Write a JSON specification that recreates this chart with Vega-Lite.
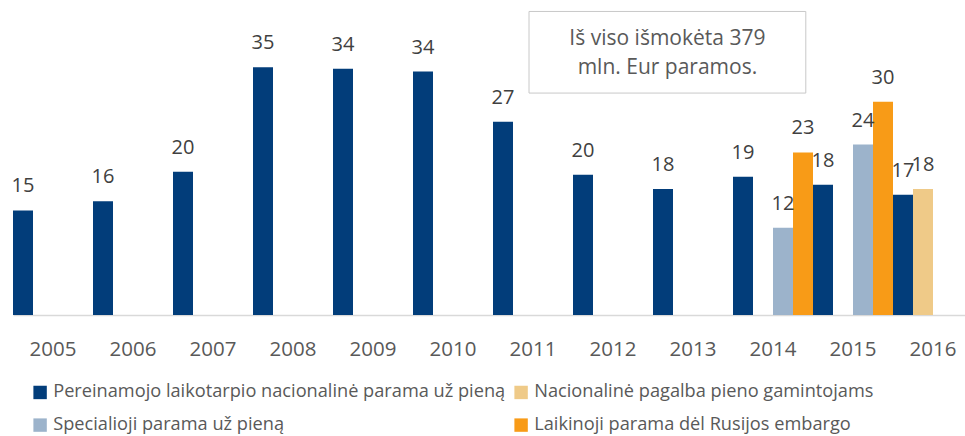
{
  "$schema": "https://vega.github.io/schema/vega-lite/v6.json",
  "width": 952,
  "height": 315,
  "autosize": {"type": "none"},
  "padding": {"left": 13, "top": 0, "right": 0, "bottom": 121},
  "background": "white",
  "config": {
    "view": {"stroke": null},
    "font": "Open Sans"
  },
  "data": {
    "values": [
      {"year": "2005", "series": "Pereinamojo laikotarpio nacionalinė parama už pieną", "value": 14.6},
      {"year": "2006", "series": "Pereinamojo laikotarpio nacionalinė parama už pieną", "value": 15.9},
      {"year": "2007", "series": "Pereinamojo laikotarpio nacionalinė parama už pieną", "value": 20.0},
      {"year": "2008", "series": "Pereinamojo laikotarpio nacionalinė parama už pieną", "value": 34.6},
      {"year": "2009", "series": "Pereinamojo laikotarpio nacionalinė parama už pieną", "value": 34.4},
      {"year": "2010", "series": "Pereinamojo laikotarpio nacionalinė parama už pieną", "value": 34.0},
      {"year": "2011", "series": "Pereinamojo laikotarpio nacionalinė parama už pieną", "value": 27.0},
      {"year": "2012", "series": "Pereinamojo laikotarpio nacionalinė parama už pieną", "value": 19.6},
      {"year": "2013", "series": "Pereinamojo laikotarpio nacionalinė parama už pieną", "value": 17.6},
      {"year": "2014", "series": "Pereinamojo laikotarpio nacionalinė parama už pieną", "value": 19.3},
      {"year": "2015", "series": "Pereinamojo laikotarpio nacionalinė parama už pieną", "value": 18.2},
      {"year": "2016", "series": "Pereinamojo laikotarpio nacionalinė parama už pieną", "value": 16.8},
      {"year": "2014", "series": "Specialioji parama už pieną", "value": 12.2},
      {"year": "2015", "series": "Specialioji parama už pieną", "value": 23.8},
      {"year": "2014", "series": "Laikinoji parama dėl Rusijos embargo", "value": 22.7},
      {"year": "2015", "series": "Laikinoji parama dėl Rusijos embargo", "value": 29.8},
      {"year": "2016", "series": "Nacionalinė pagalba pieno gamintojams", "value": 17.6}
    ]
  },
  "resolve": {"scale": {"x": "independent"}},
  "layer": [
    {
      "mark": {"type": "bar"},
      "encoding": {
        "x": {
          "field": "year", "type": "nominal",
          "scale": {"domain": ["2005","2006","2007","2008","2009","2010","2011","2012","2013","2014","2015","2016"], "range": [0, 960], "paddingInner": 0, "paddingOuter": 0},
          "axis": {"title": null, "labelAngle": 0, "ticks": false, "tickSize": 0, "labelPadding": 40, "labelBaseline": "alphabetic", "labelFontSize": 20.5, "labelColor": "#595959", "domainColor": "#d9d9d9", "domainWidth": 1.5, "labelFont": "Open Sans"}
        },
        "xOffset": {
          "field": "series", "type": "nominal",
          "scale": {"domain": ["Pereinamojo laikotarpio nacionalinė parama už pieną", "Nacionalinė pagalba pieno gamintojams", "Specialioji parama už pieną", "Laikinoji parama dėl Rusijos embargo"], "paddingInner": 0, "paddingOuter": 0}
        },
        "y": {"field": "value", "type": "quantitative", "scale": {"domain": [0, 44], "nice": false}, "axis": null},
        "color": {
          "field": "series", "type": "nominal",
          "scale": {"domain": ["Pereinamojo laikotarpio nacionalinė parama už pieną", "Nacionalinė pagalba pieno gamintojams", "Specialioji parama už pieną", "Laikinoji parama dėl Rusijos embargo"], "range": ["#023d7a", "#efca88", "#9cb3cb", "#f89b17"]},
          "legend": {
            "title": null, "orient": "none", "legendX": 18, "legendY": 383, "direction": "horizontal", "columns": 2,
            "symbolType": "square", "symbolSize": 180, "symbolStrokeWidth": 0, "labelFontSize": 18.2, "labelColor": "#595959", "labelLimit": 600, "labelOffset": 4,
            "columnPadding": 6, "rowPadding": 14, "labelFont": "Open Sans"
          }
        }
      }
    },
    {
      "mark": {"type": "text", "baseline": "alphabetic", "dy": -18, "fontSize": 20, "color": "#404040", "font": "Open Sans"},
      "encoding": {
        "x": {"field": "year", "type": "nominal", "axis": null, "scale": {"domain": ["2005","2006","2007","2008","2009","2010","2011","2012","2013","2014","2015","2016"], "range": [0, 960], "paddingInner": 0, "paddingOuter": 0}},
        "xOffset": {"field": "series", "type": "nominal", "scale": {"domain": ["Pereinamojo laikotarpio nacionalinė parama už pieną", "Nacionalinė pagalba pieno gamintojams", "Specialioji parama už pieną", "Laikinoji parama dėl Rusijos embargo"], "paddingInner": 0, "paddingOuter": 0}},
        "y": {"field": "value", "type": "quantitative"},
        "text": {"field": "value", "type": "quantitative", "format": ".0f"}
      }
    },
    {
      "data": {"values": [{"note": "Iš viso išmokėta 379\nmln. Eur paramos."}]},
      "layer": [
        {
          "mark": {"type": "rect", "fill": "white", "stroke": "#c8c8c8", "strokeWidth": 1},
          "encoding": {
            "x": {"datum": 2010.95, "type": "quantitative", "scale": {"domain": [2004.5, 2016.5], "range": [0, 960], "nice": false, "zero": false}, "axis": null},
            "x2": {"datum": 2014.41},
            "y": {"datum": 31.0, "type": "quantitative"},
            "y2": {"datum": 42.4}
          }
        },
        {
          "mark": {"type": "text", "baseline": "alphabetic", "align": "center", "fontSize": 21, "lineBreak": "\n", "lineHeight": 29, "color": "#595959", "font": "Open Sans"},
          "encoding": {
            "x": {"datum": 2012.68, "type": "quantitative"},
            "y": {"datum": 37.7, "type": "quantitative"},
            "text": {"field": "note"}
          }
        }
      ]
    }
  ]
}
